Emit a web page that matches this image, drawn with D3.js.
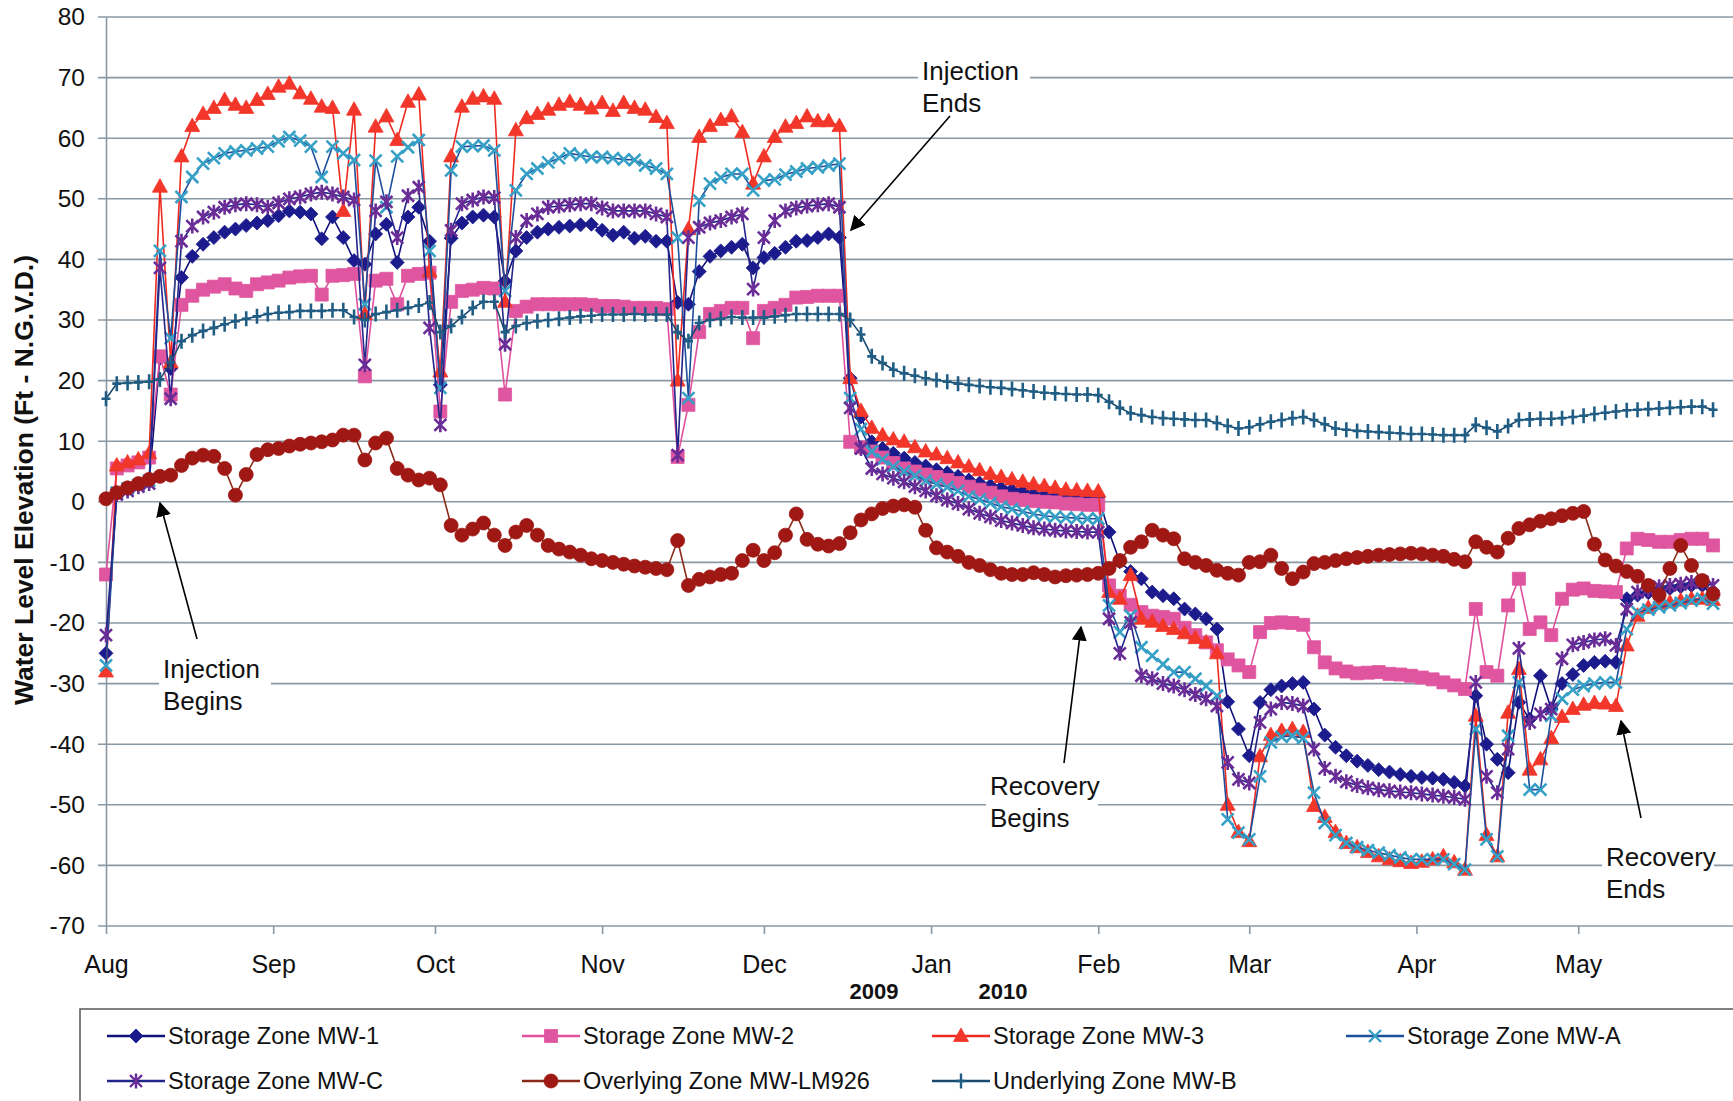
<!DOCTYPE html>
<html lang="en">
<head>
<meta charset="UTF-8" />
<title>Water Level Elevation</title>
<script src="https://cdn.jsdelivr.net/npm/d3@7"></script>
<style>
  body { margin: 0; background: #fff; }
  text { font-family: "Liberation Sans", Arial, sans-serif; fill: #111; }
</style>
</head>
<body>
<svg width="1733" height="1101"></svg>
<script>
  // readings every 2 days starting 1 Aug 2009
  var startDate = new Date(2009, 7, 1);
  var stepDays = 2;

  var mw1 = [
    -25, 1.5, 2, 2.8, 3.3, 23.7, 22, 37, 40.5, 42.5,
    43.6, 44.5, 45, 45.6, 46, 46.4, 47.2, 48, 47.8, 47.5,
    43.4, 47, 43.6, 39.8, 39.2, 44.2, 45.8, 39.5, 47, 48.6,
    43, 19.3, 43.5, 46, 47, 47.3, 47, 36.4, 41.4, 43.6,
    44.5, 45, 45.3, 45.5, 45.7, 45.8, 44.8, 44, 44.5, 43.5,
    43.8, 43, 43, 32.9, 32.6, 38, 40.5, 41.4, 42, 42.5,
    38.6, 40.3, 41, 42, 43, 43.1, 43.6, 44.2, 43.6, 20.4,
    14, 9.9, 8.8, 8, 7.2, 6.5, 5.9, 5.3, 4.8, 4.2,
    3.6, 3.1, 2.7, 2.3, 2, 1.7, 1.3, 1.1, 1, 0.9,
    0.9, 0.8, 0.8, -5, -9.9, -11.5, -12.7, -14.9, -15.5, -16,
    -17.7, -18.5, -19.3, -21, -33, -37.5, -41.9, -33.1, -31, -30.4,
    -30, -29.8, -34.2, -38.5, -40.5, -41.9, -42.8, -43.5, -44.2, -44.6,
    -45, -45.3, -45.5, -45.6, -45.8, -46.3, -46.9, -32, -40, -42.5,
    -44.7, -33.1, -35.9, -28.7, -34.2, -30, -28.5, -27, -26.5, -26.3,
    -26.5, -16, -15.4, -15, -14.6, -14.3, -14, -13.8, -13.8, -15.4
  ];
  var mw2 = [
    -12, 5.5, 6, 6.5, 7.3, 24, 17.7, 32.5, 34, 35,
    35.5, 35.9, 35.2, 34.8, 35.9, 36.2, 36.5, 37, 37.2, 37.3,
    34.2, 37.3, 37.4, 37.6, 20.7, 36.5, 36.8, 32.6, 37.3, 37.6,
    37.8, 14.9, 33, 34.8, 35, 35.3, 35.2, 17.7, 31.5, 32.2,
    32.6, 32.6, 32.6, 32.6, 32.6, 32.5, 32.3, 32.3, 32.2, 32,
    32, 32, 31.8, 7.4, 16, 28, 31, 31.5, 32, 32,
    27, 31.5, 32, 32.5, 33.7, 33.8, 34, 34, 34, 9.9,
    9, 8.3, 7.3, 6.4, 5.5, 5, 4.5, 4.1, 3.6, 3.1,
    2.5, 2, 1.5, 0.9, 0.5, 0.3, 0.1, 0, -0.1, -0.3,
    -0.4, -0.5, -0.5, -13.8, -15.5, -17, -18.2, -18.8, -19, -19.3,
    -20.8, -22, -23.2, -24.5, -26, -27, -28.1, -21.5, -20, -19.9,
    -20, -20.3, -24, -26.5, -27.5, -28, -28.3, -28.2, -28.1, -28.4,
    -28.5, -28.7, -29, -29.3, -29.8, -30.3, -30.9, -17.7, -28.1, -28.7,
    -17.1, -12.7, -21, -19.9, -22, -16, -14.5, -14.3, -14.7, -14.8,
    -14.9, -7.7, -6.1, -6.3, -6.6, -6.6, -6.3, -6.1, -6.1, -7.2
  ];
  var mw3 = [
    -28, 6, 6.5, 7, 8, 52, 23, 57, 62, 64,
    65, 66.3, 65.5, 65, 66.3, 67.3, 68.5, 69, 67.4, 66.5,
    65.2, 65, 48, 64.7, 31, 61.9, 63.6, 59.7, 66, 67.2,
    38, 21.5, 57, 65.2, 66.5, 66.9, 66.5, 33, 61.3, 63.3,
    64, 64.7, 65.5, 66, 65.5, 64.9, 65.8, 64.5, 65.8, 65,
    64.7, 63.5, 62.5, 20, 45, 60.2, 62, 63, 63.6, 61,
    52.5, 57, 60.2, 61.9, 62.5, 63.6, 62.8, 62.8, 62, 20.4,
    15, 12.2, 11, 10.3, 9.9, 9, 8.3, 7.8, 7.2, 6.5,
    5.8, 5.2, 4.6, 4.1, 3.7, 3.3, 2.9, 2.6, 2.3, 2,
    1.9, 1.8, 1.7, -14.9, -16, -12.1, -19.3, -19.8, -20.5, -21,
    -21.7, -22.5, -23.2, -25, -50, -54.5, -56, -42, -38.5, -37.8,
    -37.5, -38, -50.2, -52, -54.5, -56.3, -57, -57.8, -58.5, -59,
    -59.3, -59.6, -59.4, -59, -58.5, -59.5, -60.7, -35.3, -55, -58.5,
    -34.8, -27.6, -44.2, -42.5, -39, -35.5, -34.2, -33.5, -33.2, -33.3,
    -33.7, -23.7, -18.8, -17.5, -16.8, -16.6, -16.3, -16, -16, -16.2
  ];
  var mwA = [
    -27, 1.5, 2.2, 2.8, 3.5, 41.4, 27, 50.3, 53.6, 55.8,
    56.7, 57.5, 57.8, 58, 58.3, 58.6, 59.5, 60.2, 59.6, 58.6,
    53.6, 58.6, 57.5, 56.4, 32.6, 56.3, 48.6, 57, 58.5, 59.7,
    41.4, 18.8, 54.7, 58.6, 58.7, 58.8, 58, 34.8, 51.4, 54.1,
    55, 56, 56.7, 57.5, 57.2, 56.9, 56.9, 56.7, 56.5, 56.4,
    55.5, 55, 54.1, 43.6, 17.1, 49.7, 52.5, 53.5, 54.1, 54.1,
    51.4, 53, 53.2, 54, 54.5, 55, 55.2, 55.5, 55.8, 17.1,
    12, 8.3, 7, 5.8, 5, 4.3, 3.5, 2.9, 2.4, 1.8,
    0.9, 0.4, -0.2, -0.8, -1.2, -1.6, -2, -2.3, -2.5, -2.6,
    -2.7, -2.8, -2.8, -17.1, -21.5, -18.8, -24, -25.4, -26.8, -28.1,
    -28.1, -29.2, -30.4, -32, -52.4, -54.6, -55.7, -45.3, -39.7, -38.8,
    -38.6, -39, -48, -53, -55, -56.3, -57, -57.5, -57.9, -58.3,
    -58.7, -59, -59, -59, -59, -59.8, -60.7, -37.5, -55.7, -58.5,
    -38.6, -29.8, -47.5, -47.5, -35.3, -32.5, -31, -30.4, -30, -29.8,
    -29.8, -21, -18.2, -17.8, -17.4, -17.1, -16.7, -16.3, -16, -16.8
  ];
  var mwC = [
    -22, 1.2, 1.8, 2.5, 3, 38.6, 17, 43, 45.5, 47,
    47.8, 48.6, 49, 49.2, 49, 48.6, 49.3, 50, 50.3, 50.8,
    51.1, 50.8, 50.3, 49.8, 22.6, 48, 49.5, 43.6, 50.5, 51.9,
    28.7, 12.7, 44.8, 49.2, 49.8, 50.3, 50.2, 26, 43.6, 46.4,
    47.5, 48.6, 48.8, 49, 49.2, 49.2, 48.5, 48, 48, 48,
    48, 47.5, 47, 7.7, 43.6, 45.3, 46, 46.4, 47, 47.5,
    35.1, 43.6, 46.4, 48, 48.5, 48.8, 49, 49.2, 48.6, 15.5,
    8.8, 5.5, 4.6, 3.9, 3.3, 2.5, 1.8, 1, 0.3, -0.3,
    -1.2, -1.9, -2.5, -3.1, -3.5, -3.9, -4.3, -4.5, -4.7, -4.8,
    -4.9, -5, -5, -19.3, -25, -19.9, -28.7, -29.2, -30, -30.4,
    -31, -31.8, -32.5, -33.7, -43, -45.8, -46.4, -36.4, -34.2, -33.1,
    -33.3, -33.7, -40.8, -44, -45.3, -46.2, -46.8, -47.2, -47.5, -47.7,
    -47.9, -48, -48.2, -48.4, -48.6, -48.8, -49.1, -29.8, -45.3, -48,
    -40.8, -24.2, -36.4, -35, -34.2, -25.9, -23.6, -23.2, -22.8, -22.6,
    -23.7, -17.7, -14.9, -14.5, -14, -13.8, -13.6, -13.3, -13.2, -13.8
  ];
  var lm926 = [
    0.5, 1.5, 2.3, 3, 3.7, 4.2, 4.4, 6, 7.2, 7.7,
    7.5, 5.5, 1.1, 4.5, 7.8, 8.6, 8.8, 9.2, 9.5, 9.7,
    9.9, 10.2, 11, 11, 6.9, 9.7, 10.5, 5.5, 4.4, 3.6,
    3.9, 2.8, -3.9, -5.5, -4.5, -3.5, -5.5, -7.2, -5, -3.9,
    -5.5, -7.2, -7.8, -8.3, -8.8, -9.4, -9.7, -10, -10.3, -10.6,
    -10.8, -11, -11.2, -6.4, -13.8, -12.8, -12.4, -12, -11.8, -9.7,
    -8, -9.7, -8.4, -5.5, -2, -6.2, -7, -7.3, -6.9, -5.1,
    -3, -2, -1.1, -0.7, -0.5, -0.9, -4.7, -7.6, -8.3, -9,
    -10, -10.5, -11.2, -11.8, -12, -12, -11.7, -12, -12.4, -12.2,
    -12.1, -12, -11.8, -11, -9.7, -7.5, -6.6, -4.7, -5.5, -6.1,
    -9.4, -10, -10.5, -11.3, -11.8, -12.1, -10, -9.9, -8.8, -11,
    -12.7, -11.6, -10.2, -10, -9.7, -9.4, -9.2, -9, -8.8, -8.7,
    -8.6, -8.5, -8.6, -8.8, -9, -9.5, -9.9, -6.6, -7.5, -8.3,
    -6, -4.4, -3.8, -3.2, -2.8, -2.3, -1.9, -1.6, -7, -9.6,
    -10.6, -11.5, -12.3, -13.8, -15.4, -11, -7.2, -10.5, -13, -15.2
  ];
  var mwB = [
    17, 19.5, 19.6, 19.7, 19.8, 20.2, 23, 26.5, 27.5, 28.2,
    28.7, 29.3, 29.8, 30.2, 30.6, 31, 31.2, 31.3, 31.5, 31.5,
    31.5, 31.6, 31.6, 30.5, 30, 31, 31.3, 31.6, 32, 32.4,
    32.9, 28, 29, 30.5, 32, 33, 33, 28, 29, 29.5,
    29.8, 30, 30.2, 30.4, 30.6, 30.7, 30.9, 30.9, 30.9, 31,
    30.9, 30.9, 30.9, 28, 26.5, 29.5, 30, 30.2, 30.5, 30.4,
    30.4, 30.4, 30.6, 30.8, 31, 31, 31, 31, 31, 30,
    27.6, 24, 22.9, 21.8, 21.2, 20.8, 20.4, 20.1, 19.8, 19.5,
    19.3, 19.1, 18.9, 18.8, 18.6, 18.4, 18.2, 18, 17.9, 17.8,
    17.7, 17.7, 17.6, 16.5, 15.5, 14.6, 14.3, 14, 13.8, 13.7,
    13.6, 13.5, 13.5, 13, 12.5, 12.1, 12.3, 12.8, 13.2, 13.5,
    13.8, 14, 13.5, 12.8, 12.1, 11.9, 11.7, 11.6, 11.5, 11.4,
    11.3, 11.2, 11.2, 11.1, 11, 11, 11, 12.7, 12.2, 11.6,
    12.5, 13.5, 13.6, 13.7, 13.7, 13.8, 14, 14.2, 14.5, 14.7,
    14.9, 15.1, 15.2, 15.3, 15.4, 15.5, 15.6, 15.7, 15.7, 15.2
  ];

  var seriesNames = ['Storage Zone MW-1', 'Storage Zone MW-2', 'Storage Zone MW-3', 'Storage Zone MW-A',
                     'Storage Zone MW-C', 'Overlying Zone MW-LM926', 'Underlying Zone MW-B'];
  var seriesValues = [mw1, mw2, mw3, mwA, mwC, lm926, mwB];
  var monthLabels = ['Aug', 'Sep', 'Oct', 'Nov', 'Dec', 'Jan', 'Feb', 'Mar', 'Apr', 'May'];
  var yTicks = [-70, -60, -50, -40, -30, -20, -10, 0, 10, 20, 30, 40, 50, 60, 70, 80];

  // marker shapes, line colour, marker colour, filled or stroked
  var styles = [
    { line: '#10107a', mark: '#1b1b8e', shape: 'M0,-7L7,0L0,7L-7,0Z', fill: true },
    { line: '#e0509c', mark: '#e0559f', shape: 'M-6.5,-6.5h13v13h-13Z', fill: true },
    { line: '#f02a20', mark: '#f2362a', shape: 'M0,-8L7.5,5.5L-7.5,5.5Z', fill: true },
    { line: '#1e4f9c', mark: '#36a0c6', shape: 'M-6,-6L6,6M-6,6L6,-6', fill: false },
    { line: '#24248a', mark: '#6a2c96', shape: 'M-6,-6L6,6M-6,6L6,-6M0,-7.5V7.5', fill: false },
    { line: '#8a2a18', mark: '#a01814', shape: 'M7,0A7,7 0 1,1 -7,0A7,7 0 1,1 7,0Z', fill: true },
    { line: '#1a4a70', mark: '#1f5d84', shape: 'M0,-7.5V7.5M-4.5,0H4.5', fill: false }
  ];

  var svg = d3.select('svg');
  var plotLeft = 106, plotRight = 1740, plotTop = 17, plotBottom = 926;

  var x = d3.scaleTime()
    .domain([startDate, new Date(2010, 4, 31)])
    .range([plotLeft, plotRight]);
  var y = d3.scaleLinear().domain([-70, 80]).range([plotBottom, plotTop]);

  // horizontal grid
  svg.append('g').selectAll('line').data(yTicks).enter().append('line')
    .attr('x1', plotLeft - 8).attr('x2', plotRight)
    .attr('y1', function (d) { return y(d); })
    .attr('y2', function (d) { return y(d); })
    .attr('stroke', '#8a98a4').attr('stroke-width', 1.6);

  // axes
  var axisY = d3.axisLeft(y).tickValues(yTicks).tickSize(0).tickPadding(21).tickSizeOuter(0)
    .tickFormat(function (d) { return String(d); });
  var gy = svg.append('g').attr('transform', 'translate(' + plotLeft + ',0)').call(axisY);
  gy.select('.domain').attr('stroke', '#8a98a4').attr('stroke-width', 1.6);
  gy.selectAll('text').style('font-size', '24.5px').style('font-family', '"Liberation Sans", Arial, sans-serif').attr('fill', '#111');

  var months = d3.timeMonth.range(startDate, new Date(2010, 4, 2));
  var axisX = d3.axisBottom(x).tickValues(months).tickSize(8).tickPadding(21).tickSizeOuter(0)
    .tickFormat(function (d, i) { return monthLabels[i]; });
  var gx = svg.append('g').attr('transform', 'translate(0,' + plotBottom + ')').call(axisX);
  gx.select('.domain').remove();
  gx.selectAll('line').attr('stroke', '#8a98a4').attr('stroke-width', 1.6);
  gx.selectAll('text').style('font-size', '25px').style('font-family', '"Liberation Sans", Arial, sans-serif').attr('fill', '#111');

  svg.append('text').attr('x', 874).attr('y', 999).attr('text-anchor', 'middle')
    .style('font-size', '22px').style('font-weight', 'bold').text('2009');
  svg.append('text').attr('x', 1003).attr('y', 999).attr('text-anchor', 'middle')
    .style('font-size', '22px').style('font-weight', 'bold').text('2010');

  svg.append('text')
    .attr('transform', 'translate(33,480) rotate(-90)')
    .attr('text-anchor', 'middle')
    .style('font-size', '26.5px').style('font-weight', 'bold')
    .text('Water Level Elevation (Ft - N.G.V.D.)');

  // series
  var line = d3.line()
    .x(function (d) { return x(d.date); })
    .y(function (d) { return y(d.v); });

  seriesValues.forEach(function (vals, k) {
    var st = styles[k];
    var pts = vals.map(function (v, i) {
      return { date: d3.timeDay.offset(startDate, i * stepDays), v: v };
    });
    var g = svg.append('g');
    g.append('path').datum(pts).attr('d', line)
      .attr('fill', 'none').attr('stroke', st.line).attr('stroke-width', 1.6);
    g.selectAll('path.m').data(pts).enter().append('path')
      .attr('class', 'm')
      .attr('d', st.shape)
      .attr('transform', function (d) { return 'translate(' + x(d.date) + ',' + y(d.v) + ')'; })
      .attr('fill', st.fill ? st.mark : 'none')
      .attr('stroke', st.mark)
      .attr('stroke-width', st.fill ? 0.8 : 2.6);
  });

  // annotations
  var notes = [
    { lines: ['Injection', 'Begins'], tx: 163, ty: 678, from: [197, 639], to: [160, 503] },
    { lines: ['Injection', 'Ends'], tx: 922, ty: 80, from: [950, 116], to: [851, 230] },
    { lines: ['Recovery', 'Begins'], tx: 990, ty: 795, from: [1064, 763], to: [1081, 627] },
    { lines: ['Recovery', 'Ends'], tx: 1606, ty: 866, from: [1641, 818], to: [1621, 721] }
  ];
  svg.append('defs').append('marker')
    .attr('id', 'arrow').attr('viewBox', '0 0 10 10').attr('refX', 9).attr('refY', 5)
    .attr('markerWidth', 15).attr('markerHeight', 15).attr('markerUnits', 'userSpaceOnUse')
    .attr('orient', 'auto')
    .append('path').attr('d', 'M0,0L10,5L0,10Z').attr('fill', '#000');

  notes.forEach(function (n) {
    var g = svg.append('g');
    g.append('rect').attr('x', n.tx - 4).attr('y', n.ty - 23)
      .attr('width', 112).attr('height', 62).attr('fill', '#fff');
    n.lines.forEach(function (t, i) {
      g.append('text').attr('x', n.tx).attr('y', n.ty + i * 32)
        .style('font-size', '26px').text(t);
    });
    g.append('line')
      .attr('x1', n.from[0]).attr('y1', n.from[1]).attr('x2', n.to[0]).attr('y2', n.to[1])
      .attr('stroke', '#000').attr('stroke-width', 1.6).attr('marker-end', 'url(#arrow)');
  });

  // legend
  var legend = svg.append('g');
  legend.append('rect').attr('x', 80).attr('y', 1009).attr('width', 1680).attr('height', 120)
    .attr('fill', '#fff').attr('stroke', '#555').attr('stroke-width', 1.5);
  var colX = [107, 522, 932, 1346];
  var rowY = [1036, 1081];
  seriesNames.forEach(function (name, k) {
    var st = styles[k];
    var lx = colX[k % 4], ly = rowY[Math.floor(k / 4)];
    var item = legend.append('g');
    item.append('line').attr('x1', lx).attr('x2', lx + 58).attr('y1', ly).attr('y2', ly)
      .attr('stroke', st.line).attr('stroke-width', 2.5);
    item.append('path').attr('d', st.shape)
      .attr('transform', 'translate(' + (lx + 29) + ',' + ly + ')')
      .attr('fill', st.fill ? st.mark : 'none').attr('stroke', st.mark)
      .attr('stroke-width', st.fill ? 0.8 : 2.4);
    item.append('text').attr('x', lx + 61).attr('y', ly + 8)
      .style('font-size', '23.5px').text(name);
  });
</script>
</body>
</html>
